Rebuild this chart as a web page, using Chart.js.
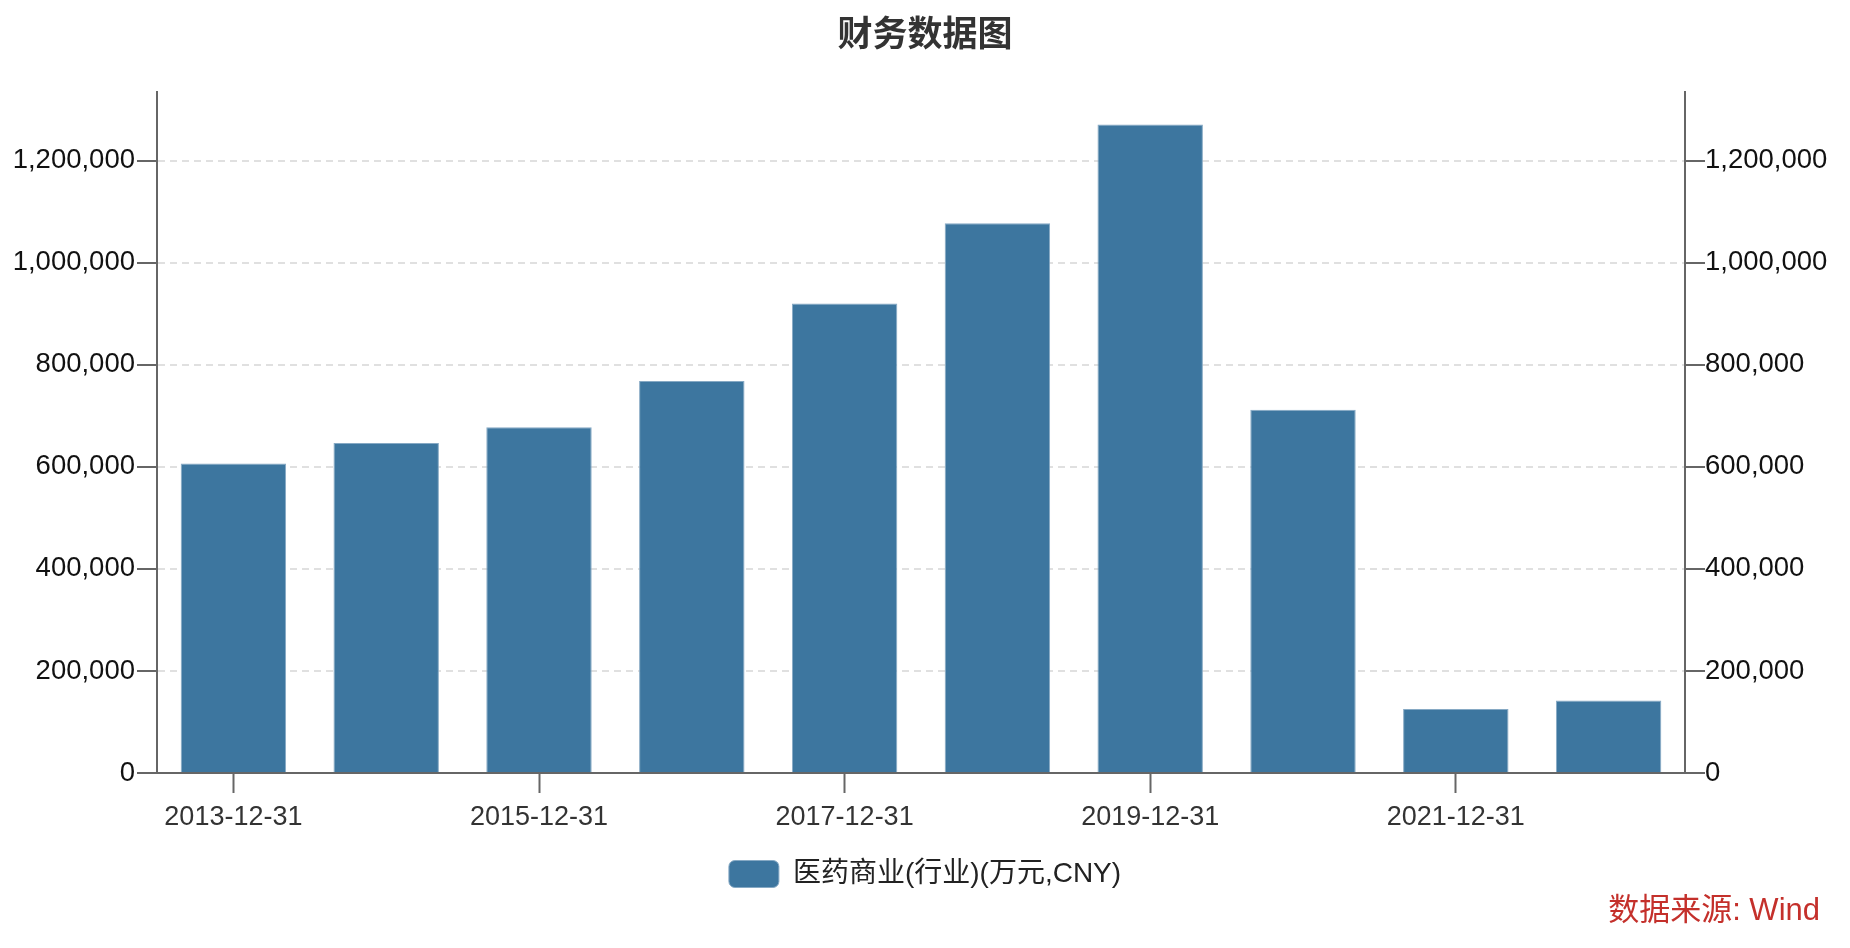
<!DOCTYPE html>
<html>
<head>
<meta charset="utf-8">
<title>财务数据图</title>
<script src="https://cdn.jsdelivr.net/npm/chart.js@4/dist/chart.umd.min.js"></script>
<style>
    body { margin: 0; background: #fff; }
    #wrap { position: relative; width: 1850px; height: 948px; }
    #source {
        position: absolute;
        right: 30px;
        top: 894px;
        font: 31px/1 'Liberation Sans', 'Noto Sans CJK SC', sans-serif;
        color: #c4302b;
    }
</style>
</head>
<body>
<div id="wrap">
    <canvas id="chart"></canvas>
    <div id="source">数据来源: Wind</div>
</div>
<script>
const categories = ['2013-12-31', '2014-12-31', '2015-12-31', '2016-12-31', '2017-12-31',
    '2018-12-31', '2019-12-31', '2020-12-31', '2021-12-31', '2022-12-31'];
const seriesName = '医药商业(行业)(万元,CNY)';
const seriesValues = [606600, 647000, 677600, 768400, 920200, 1077500, 1271200, 712200, 125200, 142200];
const yTicks = [0, 200000, 400000, 600000, 800000, 1000000, 1200000];

const latin = "'Liberation Sans', 'Noto Sans CJK SC', sans-serif";
const yMax = Math.max(...seriesValues) * 1.05;

function yAxis(position, width, pad) {
    return {
        type: 'linear',
        position: position,
        min: 0,
        max: yMax,
        ticks: {
            padding: pad,
            color: '#111',
            font: { family: latin, size: 27.5 },
            callback: v => v.toLocaleString('en-US')
        },
        afterBuildTicks: scale => {
            scale.ticks = yTicks.map(v => ({ value: v }));
        },
        afterFit: scale => { scale.width = width; },
        grid: {
            drawOnChartArea: position === 'left',
            color: '#e0e0e0',
            lineWidth: 2,
            tickLength: 20,
            tickColor: '#666',
            tickWidth: 2
        },
        border: { color: '#666', width: 2, dash: [7, 5] }
    };
}

const ctx = document.getElementById('chart').getContext('2d');
new Chart(ctx, {
    type: 'bar',
    data: {
        labels: categories,
        datasets: [{
            label: seriesName,
            data: seriesValues,
            backgroundColor: '#3d769f',
            borderColor: '#86a9c4',
            borderWidth: 1,
            categoryPercentage: 1,
            barPercentage: 0.69
        }]
    },
    options: {
        responsive: true,
        maintainAspectRatio: false,
        animation: false,
        layout: { padding: { left: 0, right: 0, top: 0, bottom: 50 } },
        scales: {
            x: {
                ticks: {
                    autoSkip: false,
                    maxRotation: 0,
                    padding: 8,
                    color: '#333',
                    font: { family: latin, size: 27 },
                    callback: function (v, i) { return i % 2 === 0 ? this.getLabelForValue(v) : ''; }
                },
                afterFit: scale => { scale.height = 77; },
                grid: {
                    offset: false,
                    drawOnChartArea: false,
                    tickLength: 20,
                    tickWidth: 2,
                    tickColor: c => c.index % 2 === 0 ? '#666' : 'rgba(0,0,0,0)'
                },
                border: { color: '#666', width: 2 }
            },
            y: yAxis('left', 157, 2),
            y2: yAxis('right', 165, 0)
        },
        plugins: {
            title: {
                display: true,
                text: '财务数据图',
                color: '#333',
                font: { family: "'Noto Sans CJK SC', sans-serif", size: 35, weight: 'bold', lineHeight: 1.2 },
                padding: { top: 12, bottom: 38 }
            },
            legend: {
                position: 'bottom',
                labels: {
                    boxWidth: 50,
                    boxHeight: 27,
                    useBorderRadius: true,
                    borderRadius: 6,
                    color: '#222',
                    font: { family: latin, size: 28 },
                    padding: 10
                }
            },
            tooltip: { enabled: false }
        }
    }
});
</script>
</body>
</html>
